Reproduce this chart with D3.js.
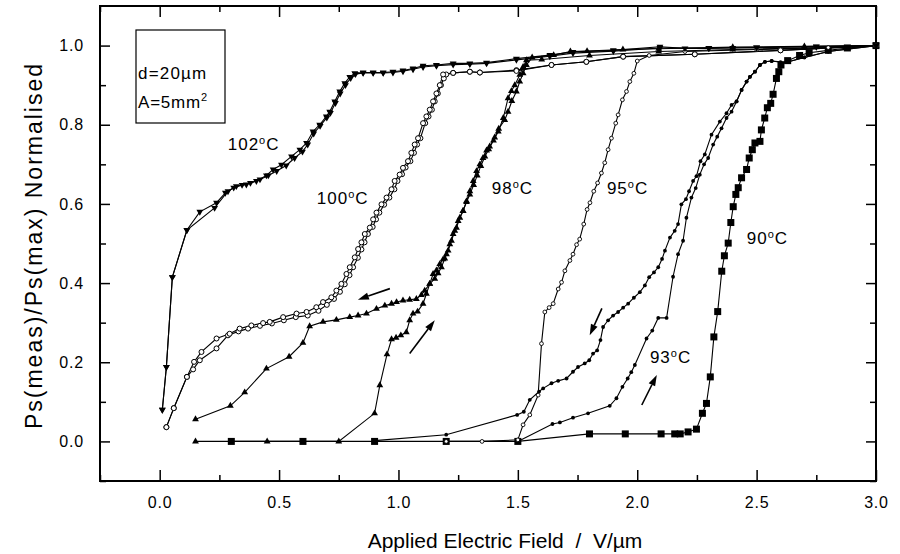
<!DOCTYPE html>
<html>
<head>
<meta charset="utf-8">
<script src="https://cdn.jsdelivr.net/npm/d3@7"></script>
<style>
  body { margin: 0; background: #fff; }
  svg text { font-family: "Liberation Sans", Arial, Helvetica, sans-serif; fill: #000; }
</style>
</head>
<body>
<div id="container"></div>
<script>
/* CONSTANTS AND GLOBALS */
const width = 900,
  height = 554,
  margin = { top: 6, bottom: 73, left: 100, right: 24 },
  xDomain = [-0.25, 3.0],
  yDomain = [-0.1, 1.1];

const xMajor = [0, 0.5, 1.0, 1.5, 2.0, 2.5, 3.0];
const xMinor = [-0.25, 0.25, 0.75, 1.25, 1.75, 2.25, 2.75];
const yMajor = [0, 0.2, 0.4, 0.6, 0.8, 1.0];
const yMinor = [-0.1, 0.1, 0.3, 0.5, 0.7, 0.9];

/* DATA: [field V/um, normalised Ps] */
// 102 C, field increasing
const up102 = [[0.011,0.08],[0.028,0.188],[0.053,0.415],[0.114,0.534],[0.23,0.59],[0.286,0.632],[0.321,0.645],[0.363,0.649],[0.405,0.658],[0.447,0.672],[0.475,0.687],[0.51,0.699],[0.552,0.72],[0.587,0.737],[0.615,0.754],[0.642,0.783],[0.67,0.80],[0.698,0.821],[0.712,0.833],[0.733,0.859],[0.754,0.884],[0.775,0.905],[0.796,0.921],[0.817,0.93],[0.852,0.932],[0.894,0.932],[0.936,0.932],[0.977,0.934],[1.019,0.937],[1.061,0.942],[1.103,0.949],[1.159,0.951],[1.229,0.955],[1.299,0.955],[1.369,0.957],[1.494,0.967],[1.634,0.976],[1.731,0.984],[1.9,0.988],[2.095,0.997],[2.2,0.993],[2.3,0.993],[2.4,0.994],[2.5,0.995],[2.75,0.998],[3.0,1.0]];
// 102 C, field decreasing
const down102 = [[3.0,1.0],[2.75,0.997],[2.5,0.995],[2.3,0.994],[2.095,0.994],[1.9,0.986],[1.731,0.981],[1.634,0.973],[1.494,0.964],[1.369,0.955],[1.299,0.953],[1.229,0.952],[1.159,0.949],[1.103,0.946],[1.061,0.94],[1.019,0.935],[0.977,0.932],[0.936,0.931],[0.894,0.931],[0.852,0.931],[0.82,0.928],[0.80,0.918],[0.778,0.9],[0.756,0.879],[0.736,0.855],[0.715,0.83],[0.70,0.818],[0.672,0.797],[0.645,0.778],[0.62,0.75],[0.598,0.732],[0.565,0.716],[0.53,0.697],[0.49,0.683],[0.455,0.672],[0.42,0.662],[0.38,0.653],[0.345,0.648],[0.31,0.641],[0.275,0.628],[0.238,0.603],[0.168,0.58],[0.114,0.534],[0.053,0.415],[0.028,0.188],[0.011,0.08]];

// 100 C
const up100 = [[0.028,0.036],[0.059,0.084],[0.114,0.163],[0.14,0.182],[0.168,0.205],[0.238,0.235],[0.286,0.268],[0.33,0.278],[0.37,0.285],[0.42,0.292],[0.47,0.298],[0.52,0.306],[0.57,0.314],[0.62,0.318],[0.665,0.33],[0.70,0.345],[0.73,0.36],[0.755,0.378],[0.775,0.397],[0.795,0.42],[0.81,0.44],[0.83,0.464],[0.845,0.485],[0.858,0.503],[0.872,0.524],[0.892,0.542],[0.906,0.561],[0.92,0.578],[0.94,0.598],[0.962,0.616],[0.983,0.637],[0.996,0.658],[1.015,0.675],[1.03,0.692],[1.05,0.708],[1.065,0.729],[1.078,0.75],[1.092,0.766],[1.112,0.804],[1.126,0.821],[1.14,0.838],[1.152,0.859],[1.165,0.879],[1.178,0.9],[1.19,0.917],[1.20,0.927],[1.229,0.931],[1.299,0.934],[1.341,0.932],[1.494,0.938],[1.641,0.951],[1.787,0.959],[1.941,0.972],[2.241,0.978],[2.6,0.988],[3.0,1.0]];
const down100 = [[3.0,1.0],[2.6,0.988],[2.241,0.978],[1.941,0.972],[1.787,0.959],[1.641,0.951],[1.494,0.936],[1.341,0.932],[1.299,0.934],[1.229,0.931],[1.187,0.927],[1.173,0.9],[1.159,0.879],[1.145,0.859],[1.131,0.838],[1.117,0.821],[1.103,0.804],[1.082,0.766],[1.068,0.75],[1.054,0.729],[1.04,0.708],[1.019,0.691],[1.005,0.674],[0.984,0.658],[0.971,0.637],[0.95,0.616],[0.929,0.599],[0.908,0.578],[0.894,0.561],[0.88,0.54],[0.859,0.524],[0.845,0.503],[0.831,0.486],[0.817,0.465],[0.796,0.44],[0.782,0.423],[0.761,0.398],[0.74,0.381],[0.719,0.364],[0.684,0.352],[0.656,0.339],[0.615,0.327],[0.573,0.323],[0.517,0.314],[0.461,0.302],[0.433,0.299],[0.384,0.293],[0.335,0.285],[0.293,0.272],[0.238,0.26],[0.175,0.226],[0.144,0.201],[0.114,0.163],[0.059,0.084],[0.028,0.036]];

// 98 C
const up98 = [[0.15,0],[0.45,0],[0.75,0],[0.9,0.071],[0.922,0.142],[0.952,0.22],[0.971,0.258],[0.99,0.262],[1.01,0.268],[1.033,0.276],[1.047,0.306],[1.061,0.323],[1.08,0.328],[1.103,0.348],[1.117,0.373],[1.131,0.398],[1.145,0.423],[1.159,0.432],[1.173,0.448],[1.187,0.46],[1.201,0.473],[1.215,0.498],[1.229,0.524],[1.243,0.54],[1.257,0.565],[1.271,0.582],[1.285,0.607],[1.299,0.632],[1.313,0.658],[1.327,0.683],[1.341,0.70],[1.354,0.716],[1.369,0.735],[1.382,0.745],[1.403,0.768],[1.42,0.79],[1.445,0.812],[1.459,0.833],[1.475,0.86],[1.494,0.884],[1.508,0.909],[1.522,0.93],[1.536,0.951],[1.56,0.97],[1.65,0.976],[1.72,0.985],[1.79,0.986],[1.94,0.99],[2.09,0.992],[2.4,0.996],[2.7,0.998],[3.0,1.0]];
const down98 = [[3.0,1.0],[2.7,0.994],[2.4,0.99],[2.09,0.985],[1.8,0.975],[1.6,0.965],[1.536,0.963],[1.522,0.946],[1.508,0.926],[1.487,0.9],[1.473,0.885],[1.459,0.867],[1.439,0.817],[1.418,0.783],[1.398,0.76],[1.378,0.738],[1.362,0.72],[1.345,0.696],[1.33,0.672],[1.315,0.648],[1.299,0.624],[1.285,0.605],[1.27,0.582],[1.25,0.557],[1.236,0.532],[1.222,0.507],[1.208,0.482],[1.194,0.462],[1.18,0.44],[1.166,0.425],[1.152,0.411],[1.131,0.398],[1.11,0.381],[1.096,0.37],[1.075,0.36],[1.047,0.358],[1.019,0.356],[0.992,0.352],[0.971,0.348],[0.943,0.343],[0.908,0.335],[0.866,0.323],[0.831,0.318],[0.796,0.314],[0.74,0.307],[0.684,0.302],[0.628,0.291],[0.6,0.249],[0.542,0.214],[0.447,0.184],[0.356,0.124],[0.296,0.09],[0.15,0.056]];

// 95 C
const up95 = [[1.2,0],[1.35,0],[1.5,0.004],[1.522,0.042],[1.55,0.067],[1.585,0.117],[1.599,0.247],[1.613,0.327],[1.631,0.338],[1.648,0.348],[1.669,0.385],[1.683,0.402],[1.697,0.431],[1.718,0.457],[1.731,0.473],[1.746,0.497],[1.759,0.511],[1.776,0.549],[1.79,0.586],[1.802,0.603],[1.818,0.632],[1.834,0.653],[1.85,0.678],[1.864,0.704],[1.878,0.737],[1.892,0.766],[1.91,0.804],[1.92,0.825],[1.938,0.863],[1.955,0.884],[1.969,0.909],[1.986,0.93],[2.0,0.961],[2.05,0.975],[2.2,0.985],[2.5,0.99],[2.8,0.995],[3.0,1.0]];

// 93 C
const up93 = [[1.5,0.0],[1.645,0.044],[1.676,0.048],[1.731,0.06],[1.794,0.071],[1.885,0.09],[1.913,0.109],[1.938,0.138],[1.96,0.159],[1.975,0.175],[1.99,0.193],[2.039,0.26],[2.063,0.28],[2.088,0.312],[2.123,0.312],[2.15,0.416],[2.171,0.473],[2.192,0.507],[2.206,0.565],[2.227,0.616],[2.245,0.64],[2.262,0.674],[2.28,0.70],[2.297,0.716],[2.318,0.75],[2.335,0.77],[2.353,0.791],[2.374,0.817],[2.395,0.833],[2.416,0.859],[2.437,0.888],[2.458,0.909],[2.472,0.921],[2.493,0.934],[2.514,0.951],[2.535,0.959],[2.563,0.961],[2.6,0.958],[2.625,0.958],[2.7,0.97],[2.8,0.985],[3.0,1.0]];
const down93 = [[3.0,1.0],[2.8,0.985],[2.7,0.97],[2.625,0.958],[2.563,0.961],[2.535,0.959],[2.514,0.951],[2.493,0.934],[2.472,0.921],[2.458,0.909],[2.437,0.888],[2.416,0.859],[2.395,0.85],[2.374,0.829],[2.346,0.808],[2.311,0.775],[2.283,0.725],[2.265,0.708],[2.248,0.67],[2.234,0.658],[2.217,0.632],[2.204,0.612],[2.185,0.599],[2.171,0.549],[2.157,0.532],[2.137,0.515],[2.116,0.482],[2.104,0.461],[2.088,0.44],[2.07,0.427],[2.05,0.415],[2.032,0.394],[2.011,0.377],[1.986,0.363],[1.962,0.348],[1.941,0.338],[1.92,0.327],[1.899,0.318],[1.878,0.306],[1.857,0.289],[1.846,0.256],[1.832,0.23],[1.815,0.222],[1.799,0.205],[1.78,0.197],[1.752,0.188],[1.731,0.176],[1.704,0.159],[1.669,0.153],[1.641,0.147],[1.606,0.134],[1.589,0.126],[1.55,0.105],[1.525,0.075],[1.497,0.067],[1.2,0.017],[0.9,0.002]];

// 90 C
const up90 = [[0.3,0],[0.6,0],[0.9,0],[1.2,0],[1.5,0],[1.8,0.019],[1.95,0.019],[2.1,0.019],[2.157,0.019],[2.18,0.019],[2.213,0.024],[2.248,0.031],[2.273,0.071],[2.29,0.096],[2.306,0.163],[2.321,0.264],[2.337,0.328],[2.354,0.43],[2.365,0.469],[2.381,0.501],[2.392,0.553],[2.402,0.593],[2.413,0.624],[2.423,0.641],[2.437,0.666],[2.458,0.687],[2.469,0.716],[2.482,0.737],[2.493,0.754],[2.514,0.758],[2.52,0.787],[2.534,0.817],[2.545,0.843],[2.559,0.854],[2.569,0.877],[2.583,0.917],[2.593,0.934],[2.602,0.951],[2.63,0.962],[2.68,0.975],[2.72,0.982],[2.8,0.988],[2.88,0.994],[3.0,1.0]];

// curve labels: text, anchor point [E, P]
const curveLabels = [
  { t: "102", at: [0.285, 0.735] },
  { t: "100", at: [0.658, 0.60] },
  { t: "98", at: [1.391, 0.624] },
  { t: "95", at: [1.873, 0.624] },
  { t: "93", at: [2.053, 0.197] },
  { t: "90", at: [2.459, 0.499] }
];

// direction arrows: [tail, head]
const arrows = [
  [[0.964, 0.386], [0.830, 0.358]],
  [[1.047, 0.222], [1.152, 0.306]],
  [[1.852, 0.336], [1.801, 0.268]],
  [[2.019, 0.092], [2.082, 0.168]]
];

const infoLines = ["d=20\u00b5m", "A=5mm"];

/* SCALES */
const xScale = d3.scaleLinear().domain(xDomain).range([margin.left, width - margin.right]);
const yScale = d3.scaleLinear().domain(yDomain).range([height - margin.bottom, margin.top]);

const svg = d3.select("#container")
  .append("svg")
  .attr("width", width)
  .attr("height", height);

const plotW = width - margin.left - margin.right,
  plotH = height - margin.top - margin.bottom;

/* AXES: ticks drawn inward on all four sides */
function tidy(g) {
  g.select(".domain").remove();
  g.selectAll(".tick line").attr("stroke", "#000").attr("stroke-width", 1.5);
  g.selectAll(".tick text").style("font-size", "16px").style("letter-spacing", "0.8px");
}
const fmt = d3.format(".1f");

svg.append("g")
  .attr("transform", `translate(0,${height - margin.bottom})`)
  .call(d3.axisBottom(xScale).tickValues(xMajor).tickSize(-11).tickPadding(16).tickFormat(fmt))
  .call(tidy);
svg.append("g")
  .attr("transform", `translate(0,${height - margin.bottom})`)
  .call(d3.axisBottom(xScale).tickValues(xMinor).tickSize(-6).tickFormat(""))
  .call(tidy);
svg.append("g")
  .attr("transform", `translate(0,${margin.top})`)
  .call(d3.axisTop(xScale).tickValues(xMajor).tickSize(-11).tickFormat(""))
  .call(tidy);
svg.append("g")
  .attr("transform", `translate(0,${margin.top})`)
  .call(d3.axisTop(xScale).tickValues(xMinor).tickSize(-6).tickFormat(""))
  .call(tidy);

svg.append("g")
  .attr("transform", `translate(${margin.left},0)`)
  .call(d3.axisLeft(yScale).tickValues(yMajor).tickSize(-10).tickPadding(16).tickFormat(fmt))
  .call(tidy);
svg.append("g")
  .attr("transform", `translate(${margin.left},0)`)
  .call(d3.axisLeft(yScale).tickValues(yMinor).tickSize(-6).tickFormat(""))
  .call(tidy);
svg.append("g")
  .attr("transform", `translate(${width - margin.right},0)`)
  .call(d3.axisRight(yScale).tickValues(yMajor).tickSize(-10).tickFormat(""))
  .call(tidy);
svg.append("g")
  .attr("transform", `translate(${width - margin.right},0)`)
  .call(d3.axisRight(yScale).tickValues(yMinor).tickSize(-6).tickFormat(""))
  .call(tidy);

// frame
svg.append("rect")
  .attr("x", margin.left).attr("y", margin.top)
  .attr("width", plotW).attr("height", plotH)
  .attr("fill", "none").attr("stroke", "#000").attr("stroke-width", 2);

// axis titles
svg.append("text")
  .attr("x", 505)
  .attr("y", 548)
  .attr("text-anchor", "middle")
  .style("font-size", "21px")
  .style("white-space", "pre")
  .text("Applied Electric Field  /  V/\u00b5m");

svg.append("text")
  .attr("transform", `translate(42,${margin.top + plotH / 2 + 2}) rotate(-90)`)
  .attr("text-anchor", "middle")
  .style("font-size", "23px")
  .style("letter-spacing", "2px")
  .text("Ps(meas)/Ps(max) Normalised");

/* CURVES */
const line = d3.line().x(d => xScale(d[0])).y(d => yScale(d[1]));
const plot = svg.append("g");

const series = [
  { data: up90, marker: "square" },
  { data: up93, marker: "dot" },
  { data: down93, marker: "dot" },
  { data: up95, marker: "ring" },
  { data: up98, marker: "tri" },
  { data: down98, marker: "tri" },
  { data: up100, marker: "circle" },
  { data: down100, marker: "circle" },
  { data: up102, marker: "tridown" },
  { data: down102, marker: "tridown" }
];

series.forEach(s => {
  plot.append("path")
    .datum(s.data)
    .attr("d", line)
    .attr("fill", "none")
    .attr("stroke", "#000")
    .attr("stroke-width", 1.1);
});

series.forEach(s => {
  const g = plot.append("g");
  const pts = g.selectAll("g").data(s.data).join("g")
    .attr("transform", d => `translate(${xScale(d[0])},${yScale(d[1])})`);
  if (s.marker === "square") {
    pts.append("rect").attr("x", -3.5).attr("y", -3.5).attr("width", 7).attr("height", 7).attr("fill", "#000");
  } else if (s.marker === "dot") {
    pts.append("circle").attr("r", 1.9).attr("fill", "#000");
  } else if (s.marker === "ring") {
    pts.append("circle").attr("r", 1.9).attr("fill", "#fff").attr("stroke", "#000").attr("stroke-width", 0.9);
  } else if (s.marker === "circle") {
    pts.append("circle").attr("r", 2.5).attr("fill", "#fff").attr("stroke", "#000").attr("stroke-width", 1);
  } else if (s.marker === "tri") {
    pts.append("path").attr("d", d3.symbol(d3.symbolTriangle, 20)).attr("fill", "#000");
  } else if (s.marker === "tridown") {
    pts.append("path").attr("d", d3.symbol(d3.symbolTriangle, 20)).attr("transform", "rotate(180)").attr("fill", "#000");
  }
});

/* ARROWS */
arrows.forEach(([t, h]) => {
  const x1 = xScale(t[0]), y1 = yScale(t[1]), x2 = xScale(h[0]), y2 = yScale(h[1]);
  const ang = Math.atan2(y2 - y1, x2 - x1);
  const len = 11, half = 3.6;
  const bx = x2 - len * Math.cos(ang), by = y2 - len * Math.sin(ang);
  svg.append("line")
    .attr("x1", x1).attr("y1", y1).attr("x2", bx).attr("y2", by)
    .attr("stroke", "#000").attr("stroke-width", 1.6);
  svg.append("path")
    .attr("d", `M${x2},${y2}L${bx + half * Math.sin(ang)},${by - half * Math.cos(ang)}L${bx - half * Math.sin(ang)},${by + half * Math.cos(ang)}Z`)
    .attr("fill", "#000");
});

/* CURVE LABELS */
curveLabels.forEach(l => {
  const txt = svg.append("text")
    .attr("x", xScale(l.at[0]))
    .attr("y", yScale(l.at[1]))
    .style("font-size", "17px")
    .style("letter-spacing", "1px");
  txt.append("tspan").text(l.t);
  txt.append("tspan").attr("dy", -6).style("font-size", "11px").text("o");
  txt.append("tspan").attr("dy", 6).text("C");
});

/* INFO BOX */
const box = svg.append("g").attr("transform", `translate(136,30)`);
box.append("rect")
  .attr("width", 89).attr("height", 93)
  .attr("fill", "#fff").attr("stroke", "#000").attr("stroke-width", 1.2);
box.append("text").attr("x", 2).attr("y", 49).style("font-size", "17px").style("letter-spacing", "1.2px").text(infoLines[0]);
const t2 = box.append("text").attr("x", 2).attr("y", 78).style("font-size", "17px").style("letter-spacing", "0.8px");
t2.append("tspan").text(infoLines[1]);
t2.append("tspan").attr("dy", -7).style("font-size", "11px").text("2");
</script>
</body>
</html>
